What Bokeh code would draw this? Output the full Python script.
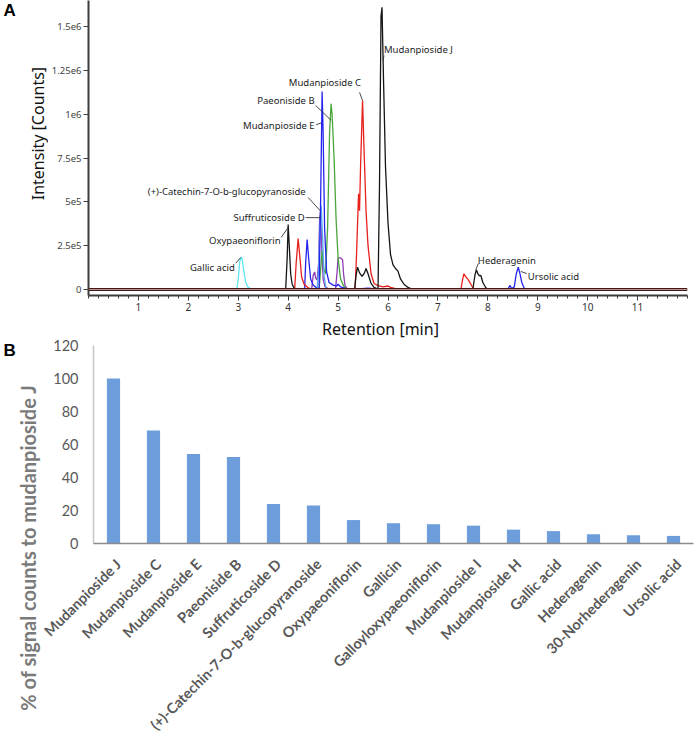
import math
from bokeh.plotting import figure
from bokeh.layouts import column, row
from bokeh.models import FixedTicker, Span, Range1d
from bokeh.embed import file_html
from bokeh.resources import INLINE
from bokeh.core.properties import value

# ---------------- Panel A: chromatogram (time in min, intensity in thousands of counts)
cyan_t = [2.97, 3.00, 3.03, 3.06, 3.08, 3.11, 3.15, 3.20, 3.28]
cyan_i = [0, 60, 160, 185, 172, 110, 40, 12, 0]

purple_t = [4.47, 4.50, 4.53, 4.55, 4.58, 4.61, 4.63, 4.65, 4.67, 4.70, 4.74, 4.80,
            4.95, 4.98, 5.00, 5.05, 5.09, 5.11, 5.14, 5.20]
purple_i = [0, 80, 100, 65, 55, 150, 400, 450, 250, 60, 15, 5,
            5, 100, 180, 180, 170, 90, 20, 0]

green_t = [4.62, 4.66, 4.68, 4.71, 4.75, 4.79, 4.83, 4.86, 4.88, 4.92, 4.96, 5.00, 5.05, 5.12, 5.20]
green_i = [0, 150, 222, 120, 90, 350, 900, 1060, 1000, 750, 400, 180, 60, 15, 0]

lightblue_t = [4.58, 4.61, 4.64, 4.66, 4.69, 4.72, 4.76]
lightblue_i = [0, 120, 380, 480, 300, 80, 0]

blue_t = [4.33, 4.35, 4.38, 4.41, 4.45, 4.50, 4.56, 4.60,
          4.62, 4.65, 4.68, 4.70, 4.73, 4.77, 4.82, 4.90, 4.97, 5.00, 5.05, 5.15, 5.30, 5.60, 5.70, 5.80,
          8.40, 8.44, 8.48, 8.53, 8.57, 8.61, 8.64, 8.68, 8.74]
blue_i = [0, 150, 285, 180, 60, 25, 12, 0,
          0, 500, 1130, 900, 350, 100, 40, 25, 20, 30, 15, 5, 0, 8, 5, 0,
          0, 23, 5, 15, 90, 127, 95, 40, 0]

red_t = [4.13, 4.16, 4.20, 4.23, 4.27, 4.32, 4.40, 4.50,
         5.34, 5.37, 5.41, 5.43, 5.45, 5.49, 5.52, 5.56, 5.60, 5.66, 5.72, 5.80, 5.90, 6.00, 6.05, 6.15, 6.25,
         7.46, 7.49, 7.52, 7.56, 7.61, 7.66, 7.72]
red_i = [0, 150, 290, 200, 70, 30, 10, 0,
         0, 200, 546, 450, 700, 1078, 800, 450, 250, 91, 34, 22, 15, 20, 12, 5, 0,
         0, 50, 90, 72, 55, 30, 0]

black_t = [3.95, 3.98, 4.00, 4.02, 4.05, 4.08, 4.12, 4.16,
           5.33, 5.36, 5.39, 5.43, 5.48, 5.53, 5.56, 5.60, 5.66, 5.72, 5.78,
           5.80, 5.83, 5.86, 5.88, 5.91, 5.95, 6.00, 6.05, 6.10, 6.15, 6.20, 6.25, 6.32, 6.40, 6.50,
           7.70, 7.74, 7.77, 7.80, 7.83, 7.86, 7.90, 7.96, 8.00]
black_i = [0, 180, 370, 260, 90, 30, 8, 0,
           0, 80, 127, 95, 75, 95, 120, 90, 35, 12, 5,
           0, 600, 1560, 1610, 1200, 700, 380, 200, 140, 120, 105, 60, 30, 12, 0,
           0, 80, 113, 90, 78, 80, 40, 10, 0]

# peak labels (right-aligned group): text, anchor time, anchor intensity (k)
rlab_text = ["Gallic acid", "Oxypaeoniflorin", "Suffruticoside D",
             "(+)-Catechin-7-O-b-glucopyranoside", "Mudanpioside E", "Paeoniside B", "Mudanpioside C"]
rlab_t = [2.93, 3.85, 4.33, 4.35, 4.53, 4.53, 5.46]
rlab_i = [125, 280, 410, 560, 935, 1080, 1180]
# left-aligned group
llab_text = ["Mudanpioside J", "Hederagenin", "Ursolic acid"]
llab_t = [5.92, 7.80, 8.80]
llab_i = [1370, 165, 74]
# leader lines
lead_t0 = [2.95, 3.86, 4.35, 4.40, 4.56, 4.55, 5.43, 5.92, 7.81, 8.66]
lead_i0 = [150, 297, 410, 525, 940, 1050, 1124, 1335, 148, 103]
lead_t1 = [3.05, 4.00, 4.66, 4.64, 4.66, 4.86, 5.49, 5.90, 7.76, 8.78]
lead_i1 = [183, 354, 410, 450, 950, 965, 1078, 1306, 114, 91]

x_ticks = list(range(1, 12))
y_ticks = [0, 250000, 500000, 750000, 1000000, 1250000, 1500000]
y_tick_labels = ["0", "2.5e5", "5e5", "7.5e5", "1e6", "1.25e6", "1.5e6"]

# ---------------- Panel B: bar chart
compounds = ["Mudanpioside J", "Mudanpioside C", "Mudanpioside E", "Paeoniside B",
             "Suffruticoside D", "(+)-Catechin-7-O-b-glucopyranoside", "Oxypaeoniflorin",
             "Gallicin", "Galloyloxypaeoniflorin", "Mudanpioside I", "Mudanpioside H",
             "Gallic acid", "Hederagenin", "30-Norhederagenin", "Ursolic acid"]
percent = [100, 68.5, 54.3, 52.4, 24.0, 23.0, 14.2, 12.3, 11.7, 10.8, 8.4, 7.5, 5.6, 5.0, 4.6]
b_ticks = [0, 20, 40, 60, 80, 100, 120]

K = 1000.0
FONT = "Noto Sans"
STRIP_W = 48
TOTAL_W = 697
TOTAL_H = 737
A_H = 317
A_FRAME_H = 295

# ---------------- left strip for panel A (letter and rotated y title)
strip = figure(width=STRIP_W, height=A_H, x_range=Range1d(0, STRIP_W), y_range=Range1d(A_H, 0),
               output_backend="svg", toolbar_location=None, x_axis_location=None, y_axis_location=None,
               min_border=0, min_border_left=0, min_border_right=0, min_border_top=0, min_border_bottom=0)
strip.outline_line_color = None
strip.xgrid.visible = False
strip.ygrid.visible = False
strip.text(x=[3], y=[0], text=["A"], text_font=value("Liberation Sans"),
           text_font_size="17px", text_font_style="bold", text_color="black",
           text_align="left", text_baseline="top")
strip.text(x=[37], y=[143], text=["Intensity [Counts]"], angle=math.pi / 2, text_font=value(FONT),
           text_font_size="16px", text_color="#111111", text_align="center", text_baseline="middle")

# ---------------- Panel A
y_lo = -(295 - 289) / 175.3 * 1e6
y_hi = 289 / 175.3 * 1e6
pA = figure(width=TOTAL_W - STRIP_W, height=A_H, x_range=Range1d(0, 12.0), y_range=Range1d(y_lo, y_hi),
            output_backend="svg", toolbar_location=None,
            min_border_left=84 - STRIP_W, min_border_right=TOTAL_W - 687, min_border_top=0,
            min_border_bottom=A_H - A_FRAME_H)
pA.outline_line_color = None
pA.xgrid.visible = False
pA.ygrid.visible = False

pA.add_layout(Span(location=0, dimension="width", line_color="#3a1c1c", line_width=3.2))
pA.add_layout(Span(location=0, dimension="width", line_color="#c78a8a", line_width=1))

traces = [(cyan_t, cyan_i, "#5fe6f2"), (purple_t, purple_i, "#8a3db3"), (green_t, green_i, "#4aa63a"),
          (lightblue_t, lightblue_i, "#58a8f5"), (blue_t, blue_i, "#2323f0"),
          (red_t, red_i, "#e8201c"), (black_t, black_i, "#151515")]
for tt, ii, col in traces:
    pA.line(list(tt), [v * K for v in ii], line_color=col, line_width=1.3)

pA.segment(x0=lead_t0, y0=[v * K for v in lead_i0], x1=lead_t1, y1=[v * K for v in lead_i1],
           line_color="#333333", line_width=0.9)
pA.text(x=rlab_t, y=[v * K for v in rlab_i], text=rlab_text, text_align="right",
        text_baseline="middle", text_font=value(FONT), text_font_size="9.5px", text_color="#222222")
pA.text(x=llab_t, y=[v * K for v in llab_i], text=llab_text, text_align="left",
        text_baseline="middle", text_font=value(FONT), text_font_size="9.5px", text_color="#222222")

xa = pA.xaxis[0]
xa.ticker = FixedTicker(ticks=x_ticks, minor_ticks=[i / 5 for i in range(0, 61)])
xa.major_label_text_font = FONT
xa.major_label_text_font_size = "10px"
xa.major_label_text_color = "#333333"
xa.major_label_standoff = 2
xa.axis_line_color = "#3c3c3c"
xa.axis_line_width = 2
xa.major_tick_line_color = "#3c3c3c"
xa.major_tick_in = 0
xa.major_tick_out = 5
xa.minor_tick_line_color = "#3c3c3c"
xa.minor_tick_in = 0
xa.minor_tick_out = 3

ya = pA.yaxis[0]
ya.ticker = FixedTicker(ticks=y_ticks)
ya.major_label_overrides = {t: s for t, s in zip(y_ticks, y_tick_labels)}
ya.major_label_text_font = FONT
ya.major_label_text_font_size = "9.5px"
ya.major_label_text_color = "#444444"
ya.major_label_standoff = 2
ya.axis_line_color = "#3c3c3c"
ya.axis_line_width = 2
ya.major_tick_line_color = "#3c3c3c"
ya.major_tick_in = 0
ya.major_tick_out = 5
ya.minor_tick_line_color = None

# ---------------- Panel B: one full-width frame; axes drawn from the data ranges
B_H = TOTAL_H - A_H
B_TOP_PAGE = A_H              # page y of this figure's top edge
B_AXIS_X = 93.0               # page x of the value axis
B_ZERO_Y = 543.0              # page y of value 0
CAT_PX = 40.0
VAL_PX = 198.0 / 120.0


def bxd(page_x):
    return (page_x - B_AXIS_X) / CAT_PX


def byd(page_y):
    return (B_ZERO_Y - page_y) / VAL_PX


pB = figure(width=TOTAL_W, height=B_H, x_range=Range1d(bxd(0), bxd(TOTAL_W)),
            y_range=Range1d(byd(B_TOP_PAGE + B_H), byd(B_TOP_PAGE)),
            output_backend="svg", toolbar_location=None, x_axis_location=None, y_axis_location=None,
            min_border=0, min_border_left=0, min_border_right=0, min_border_top=0, min_border_bottom=0)
pB.outline_line_color = None
pB.xgrid.visible = False
pB.ygrid.visible = False

centers = [i + 0.5 for i in range(len(compounds))]
pB.vbar(x=centers, top=percent, width=0.33, fill_color="#6d9edb", line_color=None)
# value axis line and category axis line
pB.segment(x0=[0], y0=[b_ticks[0]], x1=[0], y1=[b_ticks[-1]], line_color="#c6c6c6", line_width=1.5)
pB.segment(x0=[0], y0=[0], x1=[len(compounds)], y1=[0], line_color="#8c8c8c", line_width=1.5)
# value tick labels
pB.text(x=[0] * len(b_ticks), y=b_ticks, text=[str(t) for t in b_ticks], x_offset=-15,
        text_align="right", text_baseline="middle", text_font=value("Lato"),
        text_font_size="14.5px", text_color="#595959")
# category names
pB.text(x=centers, y=[0] * len(compounds), text=compounds, angle=math.pi / 4,
        x_offset=5, y_offset=18, text_align="right", text_baseline="middle",
        text_font=value("Lato"), text_font_size="14.5px", text_font_style="bold", text_color="#595959")
# titles
pB.text(x=[bxd(380)], y=[byd(328)], text=["Retention [min]"], text_align="center",
        text_baseline="middle", text_font=value(FONT), text_font_size="16px", text_color="#111111")
pB.text(x=[bxd(27)], y=[byd(547)], text=["% of signal counts to mudanpioside J"], angle=math.pi / 2,
        text_font=value("Lato"), text_font_size="20px", text_font_style="bold", text_color="#7a7a7a",
        text_align="center", text_baseline="middle")
pB.text(x=[bxd(3)], y=[byd(340)], text=["B"], text_font=value("Liberation Sans"),
        text_font_size="17px", text_font_style="bold", text_color="black",
        text_align="left", text_baseline="top")

layout = column(row(strip, pA, spacing=0), pB, spacing=0)
open("out.html", "w").write(file_html(layout, INLINE))
